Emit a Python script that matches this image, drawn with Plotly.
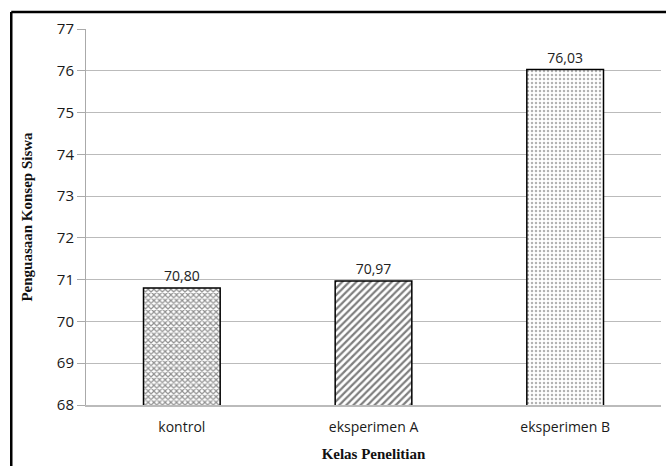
import plotly.graph_objects as go

kelas = ["kontrol", "eksperimen A", "eksperimen B"]
nilai = [70.80, 70.97, 76.03]
pola = ["x", "/", "."]
warna_pola = ["#222222", "#000000", "#666666"]
ukuran_pola = [4, 5, 4]
kepadatan = [0.5, 0.45, 0.3]

fig = go.Figure(
    go.Bar(
        x=kelas,
        y=nilai,
        width=0.4,
        marker=dict(
            color="white",
            line=dict(color="black", width=1.5),
            pattern=dict(
                shape=pola,
                fgcolor=warna_pola,
                bgcolor="white",
                size=ukuran_pola,
                solidity=kepadatan,
            ),
        ),
        texttemplate="%{y:.2f}",
        textposition="outside",
        textfont=dict(family="Open Sans", size=14, color="#222"),
        cliponaxis=False,
    )
)

# frame around the figure: only the top and left edges fall inside the page
bingkai = dict(color="black", width=2.5)

fig.update_layout(
    width=666,
    height=466,
    margin=dict(l=85.5, r=4.5, t=29, b=61),
    paper_bgcolor="white",
    plot_bgcolor="white",
    separators=",.",
    showlegend=False,
    font=dict(family="Open Sans", size=14, color="#222"),
    xaxis=dict(
        showgrid=False,
        showline=True,
        linecolor="#bbbbbb",
        linewidth=1.5,
        ticks="outside",
        ticklen=8,
        tickcolor="rgba(0,0,0,0)",
        tickfont=dict(family="Open Sans", size=14, color="#1a1a1a"),
        title=dict(
            text="<b>Kelas Penelitian</b>",
            font=dict(family="Liberation Serif", size=15, color="#111"),
            standoff=14,
        ),
    ),
    yaxis=dict(
        range=[68, 77],
        dtick=1,
        showgrid=True,
        gridcolor="#bbbbbb",
        gridwidth=1,
        showline=True,
        linecolor="#aaaaaa",
        linewidth=1,
        ticks="outside",
        ticklen=8,
        tickcolor="#aaaaaa",
        tickfont=dict(family="Open Sans", size=15, color="#1a1a1a"),
        title=dict(
            text="<b>Penguasaan Konsep Siswa</b>",
            font=dict(family="Liberation Serif", size=15, color="#111"),
            standoff=20,
        ),
        zeroline=False,
    ),
    shapes=[
        dict(type="line", xref="paper", yref="paper",
             x0=-0.13, x1=1.1, y0=1.045, y1=1.045, line=bingkai),
        dict(type="line", xref="paper", yref="paper",
             x0=-0.13, x1=-0.13, y0=-0.3, y1=1.045, line=bingkai),
    ],
)

fig.write_html("out.html")
